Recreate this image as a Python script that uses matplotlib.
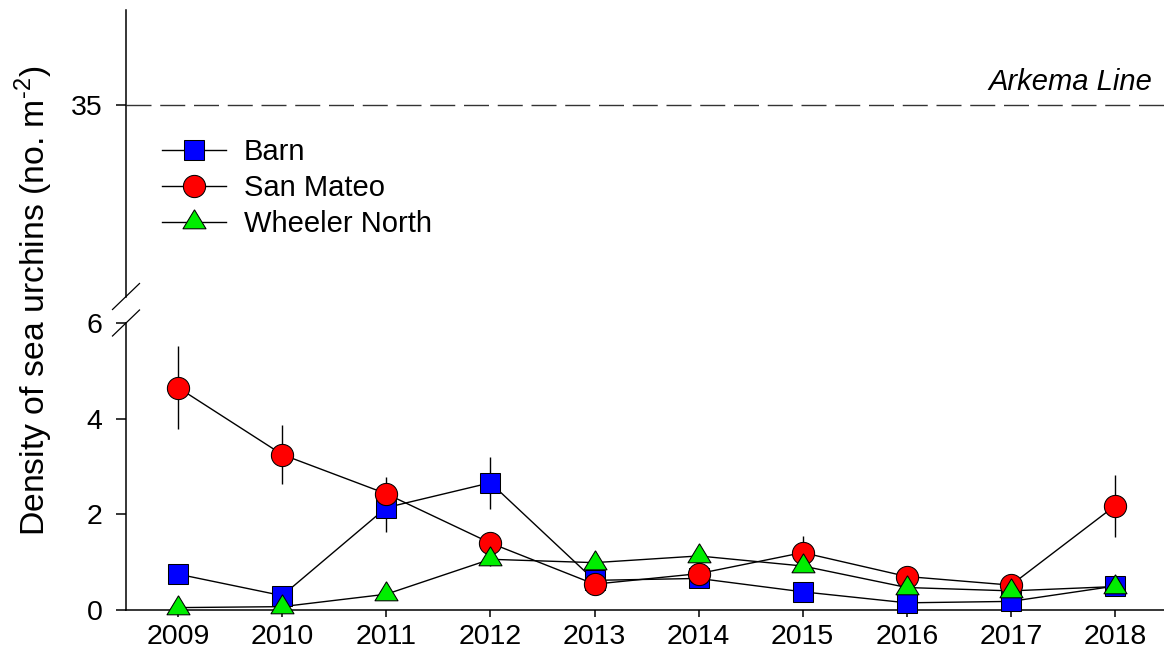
import matplotlib
matplotlib.use("Agg")
import matplotlib.pyplot as plt
import numpy as np

plt.rcParams['font.family'] = ['Liberation Sans', 'DejaVu Sans']
plt.rcParams['mathtext.fontset'] = 'custom'
plt.rcParams['mathtext.rm'] = 'Liberation Sans'

years = [2009, 2010, 2011, 2012, 2013, 2014, 2015, 2016, 2017, 2018]
barn = [0.75, 0.30, 2.14, 2.66, 0.62, 0.66, 0.38, 0.15, 0.18, 0.50]
barn_se = [0.12, 0.08, 0.50, 0.54, 0.15, 0.10, 0.08, 0.05, 0.05, 0.08]
san_mateo = [4.65, 3.25, 2.43, 1.40, 0.54, 0.76, 1.20, 0.70, 0.52, 2.18]
san_mateo_se = [0.87, 0.61, 0.36, 0.18, 0.10, 0.15, 0.35, 0.12, 0.10, 0.65]
wheeler = [0.05, 0.07, 0.33, 1.06, 0.99, 1.13, 0.92, 0.47, 0.40, 0.49]
wheeler_se = [0.03, 0.03, 0.10, 0.15, 0.10, 0.12, 0.10, 0.08, 0.06, 0.08]
arkema = 35

# triangle centred on its centroid
tri = [(0, 12.7), (-11.5, -6.3), (11.5, -6.3), (0, 12.7)]

series = [
    ("Barn", barn, barn_se, 's', 'blue', 14.4),
    ("San Mateo", san_mateo, san_mateo_se, 'o', 'red', 16),
    ("Wheeler North", wheeler, wheeler_se, tri, '#00ee00', 18.3),
]

fs = 21
W, H = 1164, 660
fig = plt.figure(figsize=(W / 100, H / 100), dpi=100)
left = 126 / W
ax_top = fig.add_axes([left, (H - 296.5) / H, 1 - left, 287 / H])
ax_bot = fig.add_axes([left, (H - 610) / H, 1 - left, 287 / H])

for ax in (ax_top, ax_bot):
    ax.set_xlim(2008.5, 2018.47)
    ax.spines['top'].set_visible(False)
    ax.spines['right'].set_visible(False)
    ax.spines['left'].set_linewidth(1.1)
    ax.spines['bottom'].set_linewidth(1.1)
    ax.tick_params(axis='x', direction='out', length=5, width=1.1, labelsize=20.5, pad=5)
    ax.tick_params(axis='y', direction='out', length=7, width=1.1, labelsize=20.5, pad=10)

ax_top.spines['bottom'].set_visible(False)
ax_top.set_ylim(25, 40)
ax_top.set_yticks([arkema])
ax_top.set_xticks([])
ax_top.axhline(arkema, color='#333333', lw=1.0, dashes=(18, 6.3), zorder=1)
ax_top.text(0.9884, arkema + 0.8, "Arkema Line", transform=ax_top.get_yaxis_transform(),
            ha='right', va='baseline', fontsize=fs, style='italic')

ax_bot.set_ylim(0, 6)
ax_bot.set_yticks([0, 2, 4, 6])
ax_bot.set_xticks(years)

handles = []
for i, (name, vals, se, mk, col, ms) in enumerate(series):
    ax_bot.errorbar(years, vals, yerr=se, fmt='none', ecolor='k', elinewidth=1.0,
                    capsize=0, zorder=2)
    ax_bot.plot(years, vals, '-', color='k', lw=1.0, zorder=3)
for i, (name, vals, se, mk, col, ms) in enumerate(series):
    ax_bot.plot(years, vals, linestyle='none', marker=mk, markersize=ms,
                markerfacecolor=col, markeredgecolor='k', markeredgewidth=0.75,
                zorder=4 + i, clip_on=False)
    h, = ax_top.plot([], [], '-', color='k', lw=1.0, marker=mk, markersize=ms,
                     markerfacecolor=col, markeredgecolor='k', markeredgewidth=0.75,
                     label=name)
    handles.append(h)

ax_top.legend(handles=handles, loc='upper left', bbox_to_anchor=(162 / W, (H - 138) / H),
              bbox_transform=fig.transFigure, frameon=False, fontsize=fs,
              borderpad=0, borderaxespad=0, handlelength=2.2, handletextpad=0.6,
              labelspacing=0.27)

# axis break marks
for y_px in (296.5, 323):
    x0, x1 = (126 - 13.5) / W, (126 + 13.5) / W
    y0, y1 = (H - y_px - 13) / H, (H - y_px + 13) / H
    fig.add_artist(plt.Line2D([x0, x1], [y0, y1], color='k', lw=0.9,
                              transform=fig.transFigure))

fig.text(34 / W, (H - 301) / H, "Density of sea urchins (no. m$^{\\text{-2}}$)",
         rotation=90, ha='center', va='center', fontsize=24.3)

fig.savefig("out.png", dpi=100)
